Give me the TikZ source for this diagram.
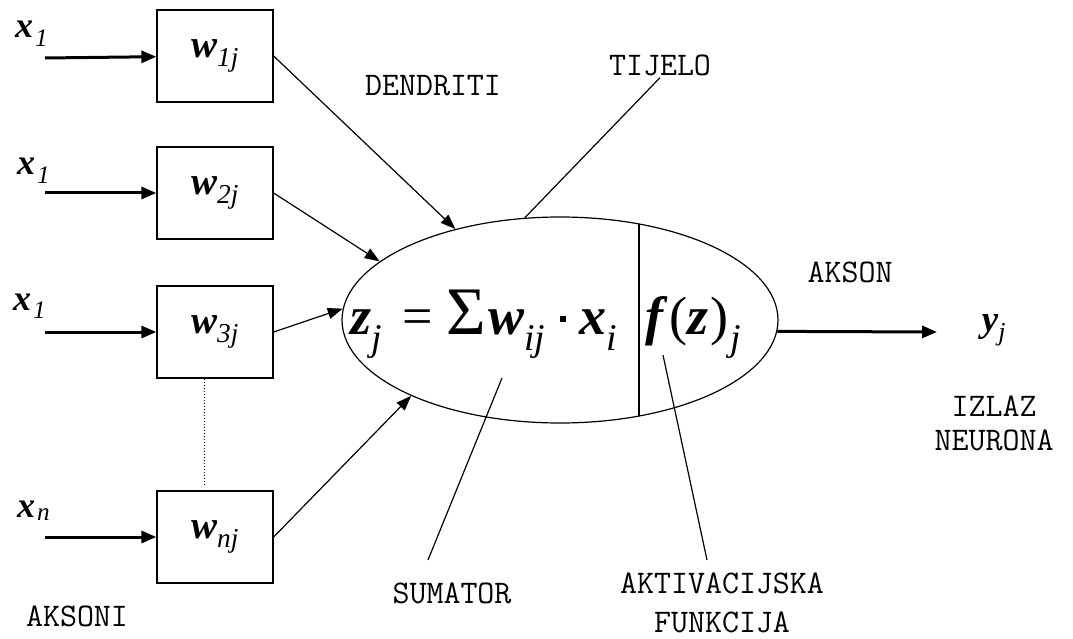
\documentclass[tikz,border=0pt]{standalone}
\usepackage{fontspec}
\setmainfont{Liberation Serif}
\usepackage{tikz}
\usetikzlibrary{shapes.geometric,arrows.meta}
\pgfdeclarelayer{edgelayer}
\pgfdeclarelayer{nodelayer}
\pgfsetlayers{edgelayer,nodelayer,main}
\tikzstyle{weight}=[rectangle, fill=white, draw=black, line width=1.3pt, minimum width=116pt, minimum height=92pt, inner sep=0pt]
\tikzstyle{soma}=[ellipse, draw=black, line width=1.2pt, minimum width=436pt, minimum height=206pt, inner sep=0pt]
\tikzstyle{txt}=[font=\ttfamily\fontsize{33}{34}\selectfont, align=center, inner sep=2pt]
\tikzstyle{axon}=[draw=black, line width=3pt, -{Triangle[length=15pt,width=12pt]}]
\tikzstyle{dendrite}=[draw=black, line width=1.2pt, -{Triangle[length=15pt,width=11pt]}]
\tikzstyle{pointer}=[draw=black, line width=1.2pt]
\newcommand{\bi}[1]{\textbf{\textit{#1}}}
\newcommand{\wij}[1]{{\fontsize{39}{40}\selectfont\bi{w}\textsubscript{\textit{#1}}}}
\newcommand{\xin}[1]{{\fontsize{36}{38}\selectfont\bi{x}\hspace{2pt}\textsubscript{\textit{#1}}}}
\newcommand{\mdot}{\raisebox{0.22em}{\rule{6pt}{6pt}}}

\begin{document}
\begin{tikzpicture}[x=1pt, y=-1pt]
				\useasboundingbox (0, 0) rectangle (1073, 639);
				\begin{pgfonlayer}{nodelayer}
					\node [style=weight] (w1) at (215, 56) {\wij{1j}};
					\node [style=weight] (w2) at (215, 193) {\wij{2j}};
					\node [style=weight] (w3) at (215, 332) {\wij{3j}};
					\node [style=weight] (wn) at (215, 537) {\wij{nj}};
					\node [anchor=base west, inner sep=0pt] (x1) at (15, 38) {\xin{1}};
					\node [anchor=base west, inner sep=0pt] (x2) at (17, 175) {\xin{1}};
					\node [anchor=base west, inner sep=0pt] (x3) at (13, 310) {\xin{1}};
					\node [anchor=base west, inner sep=0pt] (xn) at (17, 517) {\xin{n}};
					\node [style=soma] (body) at (560, 320) {};
					\node [anchor=base west, inner sep=0pt] (sum) at (350, 334) {\fontsize{54}{56}\selectfont\bi{z}\textsubscript{\textit{j}}\hspace{20pt}=\hspace{14pt}{\fontsize{68}{68}\selectfont Σ}\hspace{2pt}\bi{w}\textsubscript{\textit{ij}}\hspace{14pt}\mdot\hspace{14pt}\bi{x}\textsubscript{\textit{i}}};
					\node [anchor=base west, inner sep=0pt] (act) at (645, 334) {\fontsize{54}{56}\selectfont\bi{f}\hspace{2pt}(\bi{z}\hspace{2pt})\hspace{2pt}\textsubscript{\textit{j}}};
					\node [inner sep=0pt] (yj) at (994, 330) {\fontsize{37}{38}\selectfont\bi{y}\textsubscript{\textit{j}}};
					\node [style=txt] (dendriti) at (433, 86) {DENDRITI};
					\node [style=txt] (tijelo) at (660, 65) {TIJELO};
					\node [style=txt] (akson) at (850, 272) {AKSON};
					\node [style=txt, font=\ttfamily\fontsize{33}{34}\selectfont] (izlaz) at (994, 423) {IZLAZ\\NEURONA};
					\node [style=txt] (sumator) at (452, 593) {SUMATOR};
					\node [style=txt, inner sep=0pt, font=\ttfamily\fontsize{33}{39}\selectfont] (aktiv) at (722, 603) {AKTIVACIJSKA\\FUNKCIJA};
					\node [style=txt] (aksoni) at (77, 616) {AKSONI};
					\coordinate (a1) at (45, 58);
					\coordinate (a2) at (45, 193);
					\coordinate (a3) at (45, 332);
					\coordinate (an) at (45, 537);
					\coordinate (dtop) at (639, 224);
					\coordinate (dbot) at (639, 416);
					\coordinate (sumtip) at (502, 378);
					\coordinate (sumend) at (428, 560);
					\coordinate (acttip) at (663, 355);
					\coordinate (actend) at (707, 560);
					\coordinate (out) at (937, 332);
				\end{pgfonlayer}
				\begin{pgfonlayer}{edgelayer}
					\draw [style=axon] (a1) to (w1);
					\draw [style=axon] (a2) to (w2);
					\draw [style=axon] (a3) to (w3);
					\draw [style=axon] (an) to (wn);
					\draw [style=dendrite] (w1.east) to (body.139);
					\draw [style=dendrite] (w2.east) to (body.162);
					\draw [style=dendrite] (w3.east) to (body.177);
					\draw [style=dendrite] (wn.east) to (body.207);
					\draw [dotted, line width=1pt] ([xshift=-11pt]w3.south) to ([xshift=-11pt, yshift=4pt]wn.north);
					\draw [style=pointer] (dtop) to (dbot);
					\draw [style=pointer] (body.109) to (tijelo.south);
					\draw [style=pointer] (sumtip) to (sumend);
					\draw [style=pointer] (acttip) to (actend);
					\draw [style=axon] (body.357) to (out);
				\end{pgfonlayer}
			\end{tikzpicture}
\end{document}
